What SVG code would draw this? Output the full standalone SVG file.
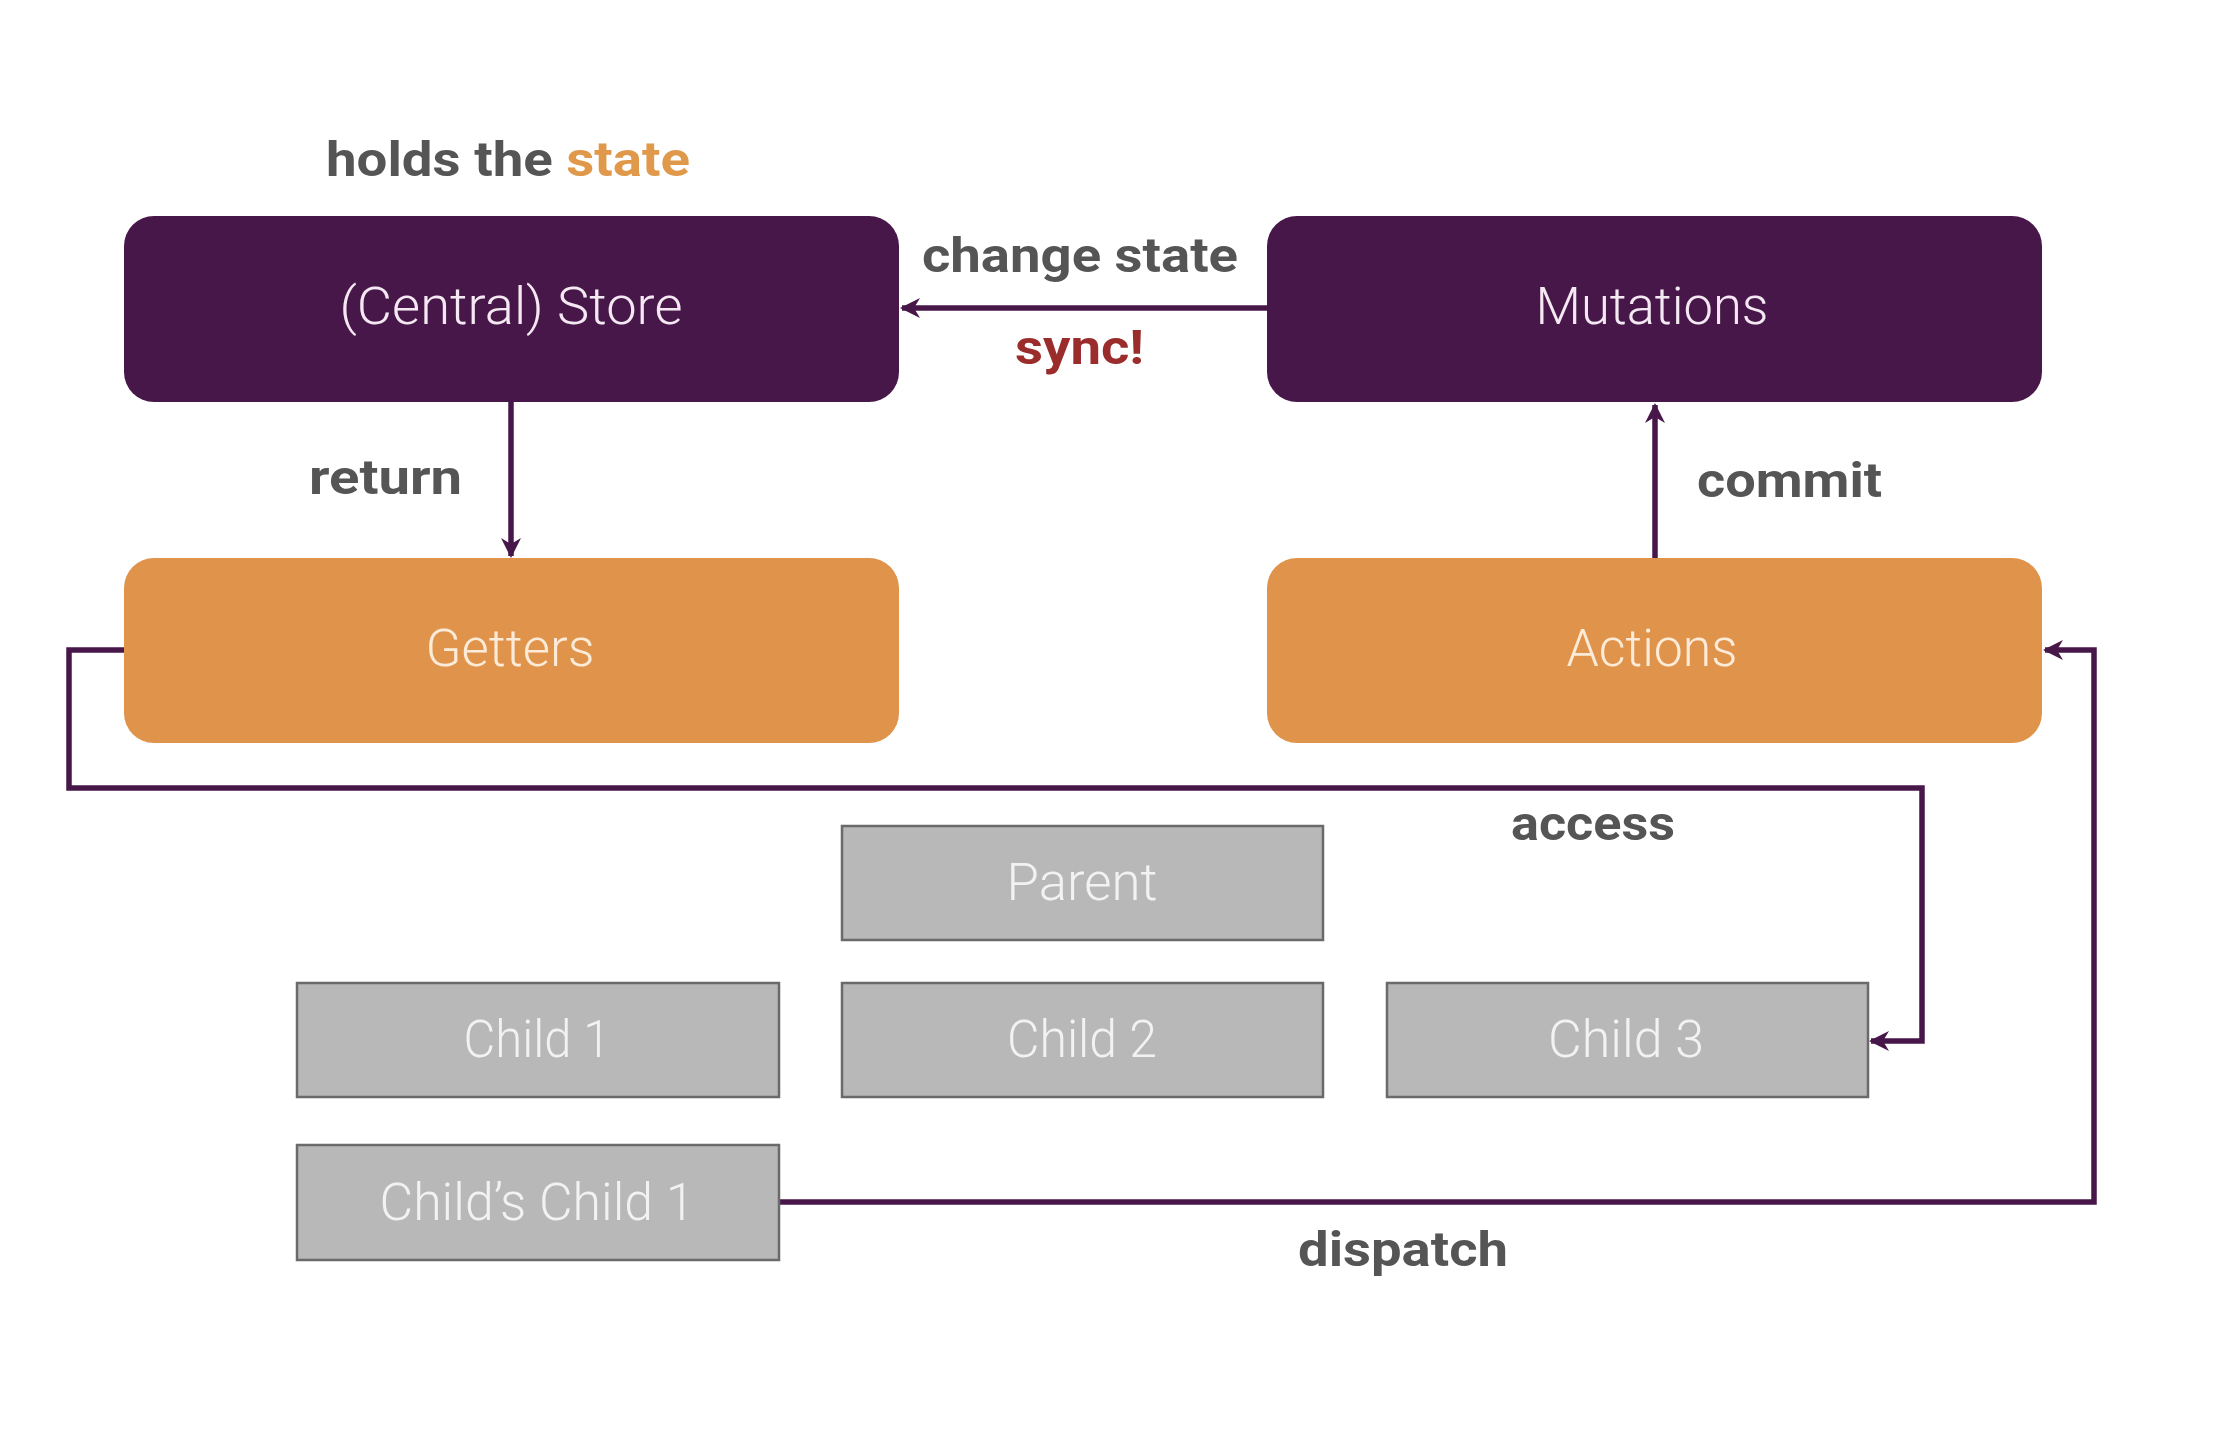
<svg xmlns="http://www.w3.org/2000/svg" width="2214" height="1452" viewBox="0 0 2214 1452">
<style>
.purple{fill:#48174A}
.orange{fill:#E0934B}
.gray{fill:#B8B8B8;stroke:#6A6A6A;stroke-width:2.5}
.ntxt{font-family:Roboto,"Liberation Sans",sans-serif;font-weight:300;font-size:51px;text-anchor:middle;dominant-baseline:central}
.wt{fill:#F4E9F2}
.ot{fill:#FBEBD8}
.gt{fill:#F2F2F2}
.lbl{font-family:Roboto,"Liberation Sans",sans-serif;font-weight:700;font-size:48px;fill:#555555}
.conn{fill:none;stroke:#48174A;stroke-width:5.5}
</style>
<defs>
<marker id="arr" viewBox="0 0 10 10" refX="9" refY="5" markerWidth="20" markerHeight="20" markerUnits="userSpaceOnUse" orient="auto">
<path d="M0,0 L10,5 L0,10 L3,5 Z" fill="#48174A"/>
</marker>
</defs>
<rect width="2214" height="1452" fill="#FFFFFF"/>

<g id="connectors">
<path class="conn" d="M1267,308 L902,308" marker-end="url(#arr)"/>
<path class="conn" d="M511,402 L511,556" marker-end="url(#arr)"/>
<path class="conn" d="M1655,558 L1655,405" marker-end="url(#arr)"/>
<path class="conn" d="M124,650 L69,650 L69,788 L1922,788 L1922,1041 L1871,1041" marker-end="url(#arr)"/>
<path class="conn" d="M779,1202 L2094,1202 L2094,650 L2045,650" marker-end="url(#arr)"/>
</g>

<g id="labels">
<text class="lbl" x="326" y="176" textLength="364" lengthAdjust="spacingAndGlyphs">holds the <tspan fill="#E0994A">state</tspan></text>
<text class="lbl" x="922" y="272" textLength="316" lengthAdjust="spacingAndGlyphs">change state</text>
<text class="lbl" x="1015" y="364" textLength="129" lengthAdjust="spacingAndGlyphs" style="fill:#9B2C2C">sync!</text>
<text class="lbl" x="309" y="494" textLength="153" lengthAdjust="spacingAndGlyphs">return</text>
<text class="lbl" x="1697" y="497" textLength="185" lengthAdjust="spacingAndGlyphs">commit</text>
<text class="lbl" x="1511" y="840" textLength="164" lengthAdjust="spacingAndGlyphs">access</text>
<text class="lbl" x="1298" y="1266" textLength="210" lengthAdjust="spacingAndGlyphs">dispatch</text>
</g>

<g id="store">
<rect class="purple" x="124" y="216" width="775" height="186" rx="30"/>
<text class="ntxt wt" x="511" y="306" textLength="343" lengthAdjust="spacingAndGlyphs">(Central) Store</text>
</g>
<g id="mutations">
<rect class="purple" x="1267" y="216" width="775" height="186" rx="30"/>
<text class="ntxt wt" x="1652" y="306" textLength="233" lengthAdjust="spacingAndGlyphs">Mutations</text>
</g>
<g id="getters">
<rect class="orange" x="124" y="558" width="775" height="185" rx="30"/>
<text class="ntxt ot" x="510" y="648" textLength="169" lengthAdjust="spacingAndGlyphs">Getters</text>
</g>
<g id="actions">
<rect class="orange" x="1267" y="558" width="775" height="185" rx="30"/>
<text class="ntxt ot" x="1652" y="648" textLength="171" lengthAdjust="spacingAndGlyphs">Actions</text>
</g>
<g id="parent">
<rect class="gray" x="842" y="826" width="481" height="114"/>
<text class="ntxt gt" x="1082" y="882" textLength="151" lengthAdjust="spacingAndGlyphs">Parent</text>
</g>
<g id="child1">
<rect class="gray" x="297" y="983" width="482" height="114"/>
<text class="ntxt gt" x="537" y="1039" textLength="147" lengthAdjust="spacingAndGlyphs">Child 1</text>
</g>
<g id="child2">
<rect class="gray" x="842" y="983" width="481" height="114"/>
<text class="ntxt gt" x="1082" y="1039" textLength="150" lengthAdjust="spacingAndGlyphs">Child 2</text>
</g>
<g id="child3">
<rect class="gray" x="1387" y="983" width="481" height="114"/>
<text class="ntxt gt" x="1626" y="1039" textLength="156" lengthAdjust="spacingAndGlyphs">Child 3</text>
</g>
<g id="childs-child1">
<rect class="gray" x="297" y="1145" width="482" height="115"/>
<text class="ntxt gt" x="537" y="1202" textLength="315" lengthAdjust="spacingAndGlyphs">Child’s Child 1</text>
</g>
</svg>
